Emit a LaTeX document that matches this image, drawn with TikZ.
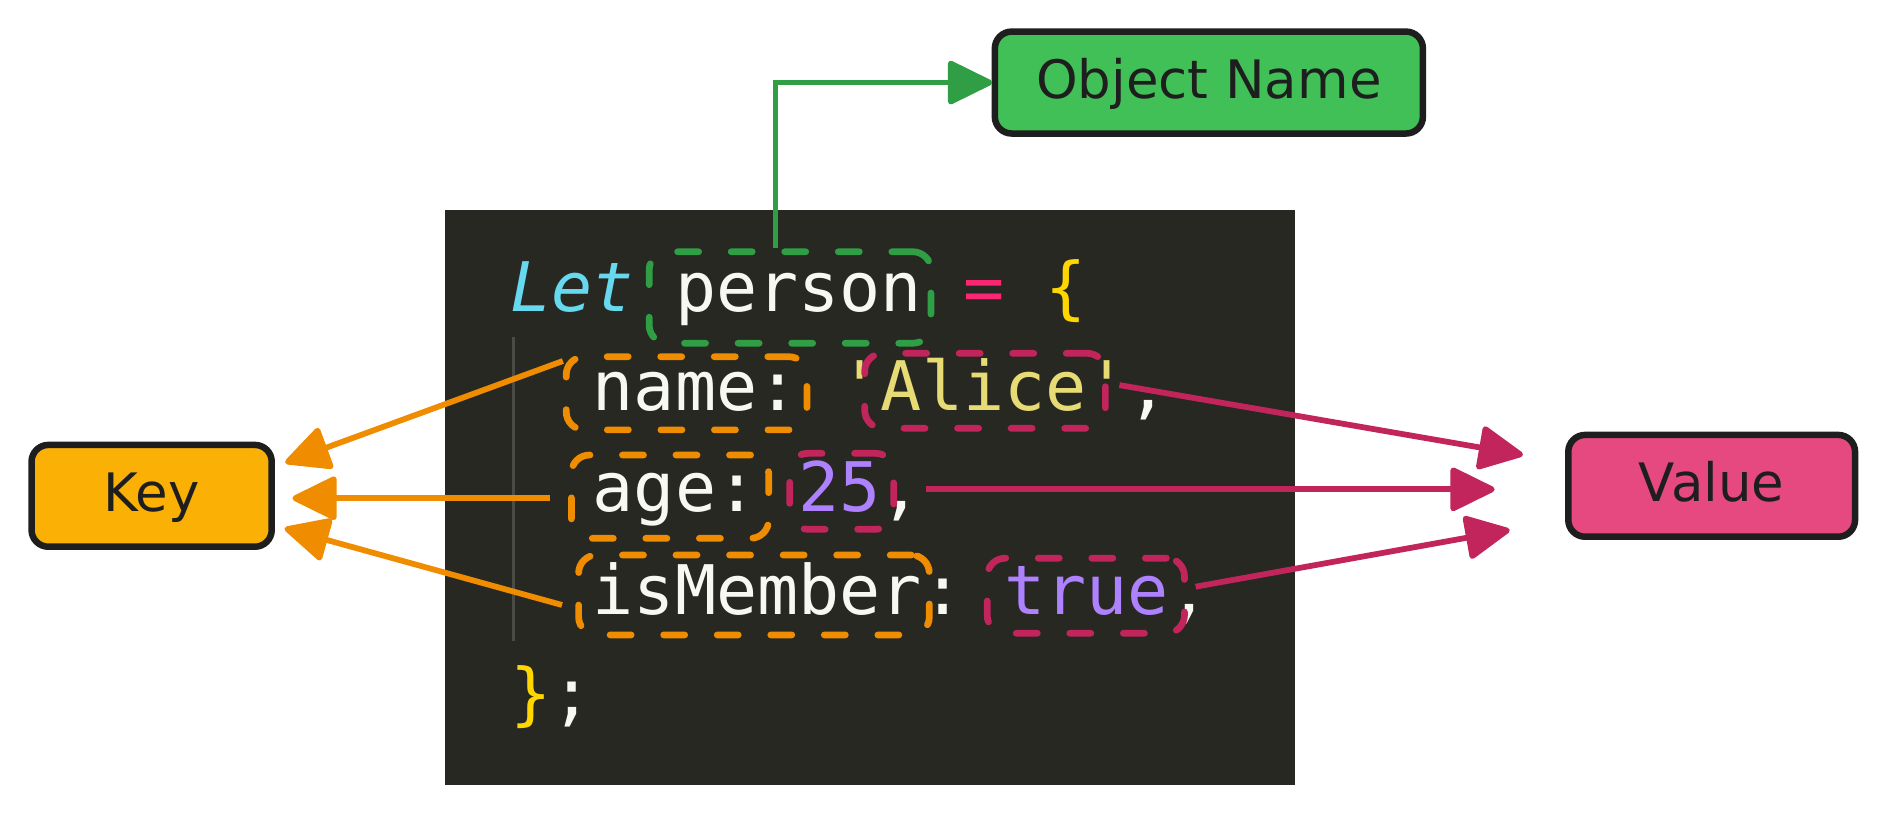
\documentclass[tikz,border=0pt]{standalone}
\usepackage{fontspec}
\usetikzlibrary{arrows.meta}
\newfontfamily\labelfont{DejaVu Sans}
\newfontfamily\codefont[Ligatures=TeXOff,ItalicFont={DejaVu Sans Mono Oblique}]{DejaVu Sans Mono}
\definecolor{codebg}{HTML}{282823}
\definecolor{cfg}{HTML}{F8F8F2}
\definecolor{ccyan}{HTML}{66D9EF}
\definecolor{cpink}{HTML}{F92672}
\definecolor{cstr}{HTML}{E6DB74}
\definecolor{cnum}{HTML}{AE81FF}
\definecolor{cbrace}{HTML}{FFD700}
\definecolor{guidec}{HTML}{4A4B45}
\definecolor{exgreen}{HTML}{2F9E44}
\definecolor{exorange}{HTML}{F08C00}
\definecolor{exred}{HTML}{C2255C}
\definecolor{fillgreen}{HTML}{40C057}
\definecolor{fillyellow}{HTML}{FAB005}
\definecolor{fillpink}{HTML}{E64980}
\definecolor{inkc}{HTML}{1E1E1E}
\begin{document}
\frenchspacing
\begin{tikzpicture}[x=1pt,y=-1pt,
  codeline/.style={inner sep=0pt, anchor=base west, text=cfg,
    font=\codefont\fontsize{56.8}{60}\selectfont},
  hlbox/.style={draw=#1, line width=5.6pt, dash pattern=on 17.5pt off 27pt,
    line cap=round, rounded corners=15pt, inner sep=0pt},
  lblbox/.style={draw=inkc, fill=#1, line width=5.4pt, rounded corners=14pt,
    inner sep=0pt, text height=26pt, text depth=0pt, text=inkc,
    font=\labelfont\fontsize{44}{50}\selectfont},
  conn/.style={draw=#1, line width=4.8pt,
    -{Triangle[length=40pt,width=38pt,round]}},
]
\useasboundingbox (0,0) rectangle (1568,677.2);
% code panel
\fill[codebg] (369.7,174.5) rectangle (1076,652);
\draw[guidec, line width=2.2pt] (426.5,280) -- (426.5,533);
% code text
\node[codeline] (l1) at (424,259) {{\itshape\color{ccyan}Let} person {\color{cpink}=} {\color{cbrace}\{}};
\node[codeline] (l2) at (492.4,341.5) {name: {\color{cstr}'Alice'},};
\node[codeline] (l3) at (492.4,425) {age: {\color{cnum}25},};
\node[codeline] (l4) at (492.4,510.5) {isMember: {\color{cnum}true},};
\node[codeline] (l5) at (424,596) {{\color{cbrace}\}};};
% highlight boxes
\node[hlbox=exgreen, minimum width=234.1, minimum height=76] (person) at (656.5,247.2) {};
\node[hlbox=exorange, minimum width=200, minimum height=60.8] (kname) at (570.5,326.8) {};
\node[hlbox=exred, minimum width=200, minimum height=62.3] (alice) at (818.5,324.75) {};
\node[hlbox=exorange, minimum width=163.9, minimum height=69.2] (kage) at (556.75,412.7) {};
\node[hlbox=exred, minimum width=86.4, minimum height=63.1] (n25) at (699.4,408.25) {};
\node[hlbox=exorange, minimum width=291.4, minimum height=66.4] (kmem) at (626.5,494.4) {};
\node[hlbox=exred, minimum width=163.9, minimum height=62.4] (vtrue) at (902.25,495) {};
% label boxes
\node[lblbox=fillgreen, minimum width=355.7, minimum height=84.7] (objname) at (1004.5,68.6) {Object Name};
\node[lblbox=fillyellow, minimum width=199.6, minimum height=84.6] (key) at (126,412) {Key};
\node[lblbox=fillpink, minimum width=238.3, minimum height=84.6] (value) at (1422.3,403.7) {Value};
% arrow tips
\coordinate (kt1) at (237,384.5);
\coordinate (kt2) at (243,414);
\coordinate (kt3) at (236.5,439);
\coordinate (vt1) at (1265.5,378);
\coordinate (vt2) at (1242,406.6);
\coordinate (vt3) at (1254.5,440.4);
% connectors
\draw[conn=exgreen] ([xshift=-12.2pt]person.north) |- ([xshift=0.5pt]objname.west);
\draw[conn=exorange] ([yshift=26.8pt]kname.west) -- (kt1);
\draw[conn=exorange] ([xshift=-14.7pt,yshift=-1.3pt]kage.west) -- (kt2);
\draw[conn=exorange] ([xshift=-11pt,yshift=-8.3pt]kmem.west) -- (kt3);
\draw[conn=exred] ([xshift=8.9pt,yshift=4.75pt]alice.east) -- (vt1);
\draw[conn=exred] ([xshift=23.7pt,yshift=1.65pt]n25.east) -- (vt2);
\draw[conn=exred] ([xshift=6.5pt,yshift=7.5pt]vtrue.east) -- (vt3);
\end{tikzpicture}
\end{document}
